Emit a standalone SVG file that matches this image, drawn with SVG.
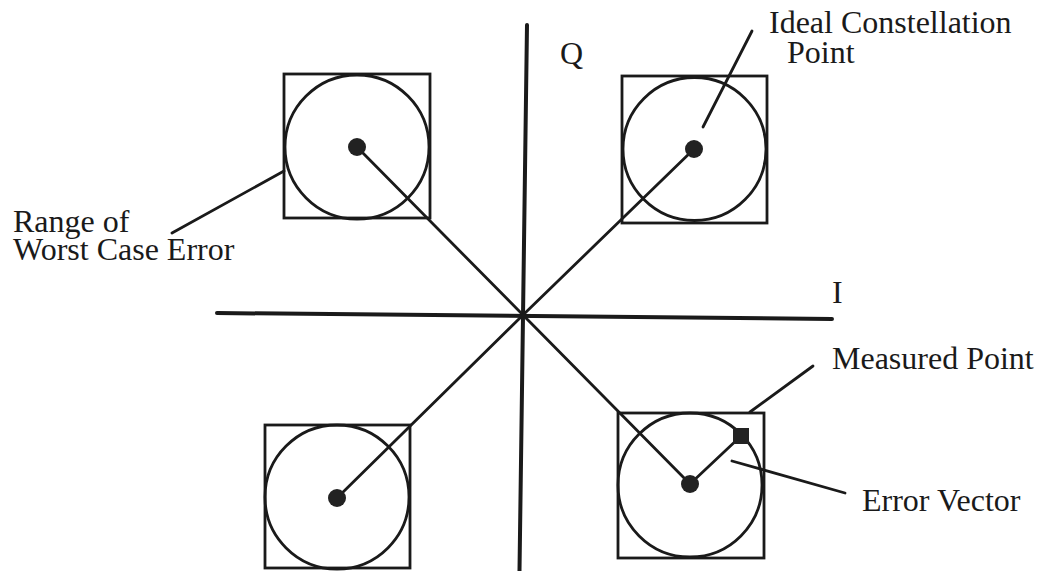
<svg xmlns="http://www.w3.org/2000/svg" width="1039" height="571" viewBox="0 0 1039 571">
<style>
.ax{stroke:#1a1a1a;stroke-width:4;stroke-linecap:round;fill:none}
.ln{stroke:#1a1a1a;stroke-width:2.8;stroke-linecap:round;fill:none}
.bx{stroke:#1a1a1a;stroke-width:2.8;fill:none}
.dot{fill:#222}
.t{font-family:"Liberation Serif","Times New Roman",serif;font-size:32px;fill:#1a1a1a}
</style>
<rect width="1039" height="571" fill="#fff"/>
<g id="connectors">
<line class="ax" x1="527" y1="25" x2="519.5" y2="571"/>
<line class="ax" x1="217" y1="313" x2="832" y2="319"/>
<line class="ln" x1="523" y1="315" x2="357" y2="147"/>
<line class="ln" x1="523" y1="315" x2="694" y2="149"/>
<line class="ln" x1="523" y1="315" x2="337" y2="498"/>
<line class="ln" x1="523" y1="315" x2="690" y2="484"/>
<line class="ln" x1="690" y1="484" x2="741" y2="436"/>
<line class="ln" x1="752" y1="31" x2="703" y2="127"/>
<line class="ln" x1="172" y1="233" x2="284" y2="171"/>
<line class="ln" x1="813" y1="366" x2="750" y2="412"/>
<line class="ln" x1="732" y1="461" x2="845" y2="493"/>
</g>
<g id="node-tl">
<rect class="bx" x="284" y="74" width="146" height="144"/>
<circle class="bx" cx="357" cy="147" r="72"/>
<circle class="dot" cx="357" cy="147" r="9"/>
</g>
<g id="node-tr">
<rect class="bx" x="622" y="76" width="145" height="147"/>
<circle class="bx" cx="694.5" cy="149" r="71.5"/>
<circle class="dot" cx="694" cy="149" r="9"/>
</g>
<g id="node-bl">
<rect class="bx" x="265" y="425" width="145" height="143"/>
<circle class="bx" cx="337" cy="497" r="72"/>
<circle class="dot" cx="337" cy="498" r="9"/>
</g>
<g id="node-br">
<rect class="bx" x="618" y="413" width="146" height="145"/>
<circle class="bx" cx="690" cy="485" r="72"/>
<circle class="dot" cx="690" cy="484" r="9"/>
<rect class="dot" x="733" y="428" width="16" height="16"/>
</g>
<g id="labels">
<text class="t" x="560" y="64">Q</text>
<text class="t" x="832" y="303">I</text>
<text class="t" x="769" y="33">Ideal Constellation<tspan x="787" dy="30">Point</tspan></text>
<text class="t" x="13" y="232">Range of<tspan x="13" dy="28">Worst Case Error</tspan></text>
<text class="t" x="832" y="369">Measured Point</text>
<text class="t" x="862" y="511">Error Vector</text>
</g>
</svg>
